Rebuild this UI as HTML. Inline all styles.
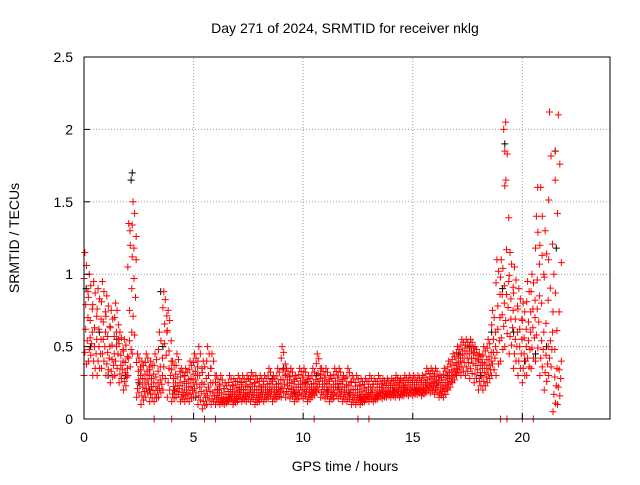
<!DOCTYPE html>
<html><head><meta charset="utf-8"><style>
html,body{margin:0;padding:0;background:#fff;}
svg text{font-family:"Liberation Sans",sans-serif;font-size:14px;fill:#000;}
</style></head><body>
<svg id="chart" width="640" height="480" xmlns="http://www.w3.org/2000/svg">
<rect x="0" y="0" width="640" height="480" fill="#fff"/>
<text x="345" y="33" text-anchor="middle">Day 271 of 2024, SRMTID for receiver nklg</text>
<text x="345" y="471" text-anchor="middle">GPS time / hours</text>
<text transform="translate(19,238) rotate(-90)" text-anchor="middle">SRMTID / TECUs</text>
<g id="grid"></g><g id="marks"></g>
<rect x="84" y="57" width="526" height="362" fill="none" stroke="#000" stroke-width="1"/>
<g id="ticks"></g>
</svg>
<script>
const xTicks=[0,5,10,15,20];
const yTicks=[0,0.5,1,1.5,2,2.5];
const yTickLabels=["0","0.5","1","1.5","2","2.5"];
const redT=[0,0.2,0.4,0.6,0.8,1.0,1.2,1.4,1.6,1.8,2.0,2.2,2.4,2.6,2.8,3.0,3.2,3.4,3.6,3.8,4.0,4.2,4.4,4.6,4.8,5.0,5.2,5.4,5.6,5.8,6.0,6.2,6.4,6.6,6.8,7.0,7.2,7.4,7.6,7.8,8.0,8.2,8.4,8.6,8.8,9.0,9.2,9.4,9.6,9.8,10.0,10.2,10.4,10.6,10.8,11.0,11.2,11.4,11.6,11.8,12.0,12.2,12.4,12.6,12.8,13.0,13.2,13.4,13.6,13.8,14.0,14.2,14.4,14.6,14.8,15.0,15.2,15.4,15.6,15.8,16.0,16.2,16.4,16.6,16.8,17.0,17.2,17.4,17.6,17.8,18.0,18.2,18.4,18.6,18.8,19.0,19.2,19.4,19.6,19.8,20.0,20.2,20.4,20.6,20.8,21.0,21.2,21.4,21.6];
const redHigh=[1.15,1.0,0.95,0.9,0.95,0.85,0.75,0.8,0.6,0.55,1.35,1.5,0.45,0.4,0.45,0.4,0.45,0.6,0.88,0.75,0.4,0.45,0.35,0.35,0.4,0.45,0.5,0.4,0.5,0.45,0.3,0.3,0.25,0.3,0.28,0.3,0.3,0.3,0.32,0.3,0.3,0.3,0.35,0.3,0.35,0.5,0.35,0.35,0.3,0.35,0.35,0.3,0.35,0.45,0.35,0.35,0.3,0.35,0.35,0.3,0.35,0.3,0.3,0.28,0.28,0.3,0.28,0.3,0.28,0.28,0.28,0.3,0.28,0.3,0.3,0.3,0.3,0.3,0.35,0.35,0.35,0.3,0.35,0.4,0.45,0.5,0.55,0.55,0.55,0.5,0.45,0.5,0.55,0.75,1.1,1.1,2.05,1.15,1.05,0.9,0.8,0.95,1.0,1.4,1.6,1.3,2.12,1.0,2.1];
const redMid=[0.7,0.6,0.55,0.55,0.6,0.5,0.45,0.55,0.4,0.35,0.6,1.1,0.3,0.25,0.3,0.25,0.25,0.3,0.6,0.4,0.25,0.25,0.2,0.22,0.25,0.3,0.25,0.2,0.25,0.2,0.18,0.15,0.15,0.18,0.17,0.2,0.18,0.2,0.2,0.18,0.2,0.2,0.22,0.2,0.22,0.3,0.25,0.22,0.2,0.24,0.22,0.2,0.22,0.28,0.24,0.22,0.2,0.24,0.22,0.2,0.2,0.18,0.18,0.17,0.18,0.2,0.18,0.2,0.2,0.2,0.2,0.22,0.2,0.22,0.22,0.22,0.22,0.22,0.25,0.26,0.25,0.22,0.25,0.3,0.35,0.4,0.45,0.45,0.45,0.4,0.35,0.35,0.4,0.5,0.7,0.8,0.95,0.75,0.6,0.55,0.5,0.6,0.7,0.85,0.6,0.5,0.6,0.35,0.4];
const redLow=[0.3,0.4,0.3,0.3,0.35,0.3,0.25,0.3,0.25,0.2,0.3,0.45,0.15,0.1,0.15,0.12,0.12,0.15,0.2,0.15,0.12,0.15,0.12,0.12,0.12,0.15,0.1,0.07,0.1,0.1,0.1,0.1,0.1,0.12,0.1,0.12,0.12,0.12,0.12,0.1,0.12,0.12,0.14,0.12,0.14,0.15,0.15,0.14,0.12,0.14,0.14,0.12,0.15,0.18,0.15,0.14,0.12,0.14,0.14,0.12,0.12,0.1,0.1,0.1,0.12,0.12,0.12,0.14,0.14,0.15,0.15,0.15,0.15,0.16,0.16,0.16,0.17,0.16,0.18,0.18,0.17,0.15,0.15,0.2,0.25,0.3,0.3,0.3,0.28,0.25,0.2,0.2,0.25,0.3,0.3,0.4,0.5,0.45,0.35,0.3,0.25,0.3,0.35,0.4,0.3,0.2,0.3,0.05,0.1];
const redSpikeT=[2.1,2.2,19.15,19.2,19.25,20.7,20.9,21.2,21.5,21.5];
const redSpikeV=[1.3,1.12,2.0,1.85,1.65,1.6,1.13,1.1,1.85,1.65];
const zeroT=[3.2,4.0,5.5,6.0,7.6,10.5,12.5,13.0,19.0,19.3,20.0,20.5];
const blackT=[0.1,0.3,0.7,1.1,1.5,1.9,2.15,2.2,2.5,3.0,3.5,3.6,4.1,4.6,5.1,5.6,6.1,6.6,7.1,7.6,8.1,8.6,9.1,9.6,10.1,10.6,11.1,11.6,12.1,12.6,13.1,13.6,14.1,14.6,15.1,15.6,16.1,16.6,17.1,17.6,18.1,18.6,19.1,19.2,19.6,20.1,20.6,21.1,21.5,21.55];
const blackV=[0.9,0.5,0.6,0.3,0.55,0.3,1.65,1.7,0.25,0.2,0.88,0.5,0.2,0.3,0.15,0.1,0.2,0.15,0.2,0.2,0.2,0.28,0.35,0.18,0.25,0.3,0.2,0.22,0.18,0.15,0.2,0.2,0.2,0.22,0.2,0.25,0.25,0.3,0.45,0.5,0.3,0.6,0.9,1.9,0.6,0.4,0.45,0.5,1.85,1.18];

const X0=84,X1=610,Y0=419,Y1=57;
const xs=v=>X0+(v/24)*(X1-X0);
const ys=v=>Y0-(v/2.5)*(Y0-Y1);
const NS="http://www.w3.org/2000/svg";
const grid=document.getElementById('grid'),ticks=document.getElementById('ticks'),marks=document.getElementById('marks');
function mk(tag,attrs,parent){const e=document.createElementNS(NS,tag);for(const k in attrs)e.setAttribute(k,attrs[k]);parent.appendChild(e);return e;}
xTicks.forEach(v=>{
  const x=xs(v);
  if(v>0){const g=mk('line',{x1:x,y1:Y0,x2:x,y2:Y1,stroke:'#a0a0a0','stroke-dasharray':'1,2'},grid);
  
  }
  const t=mk('line',{x1:x,y1:Y0,x2:x,y2:Y0-6,stroke:'#000'},ticks);
  
  
  const l=mk('text',{x:x,y:Y0+23,'text-anchor':'middle'},ticks);l.textContent=String(v);
  
  
});
yTicks.forEach((v,i)=>{
  const y=ys(v);
  if(v>0&&v<2.5){const g=mk('line',{x1:X0,y1:y,x2:X1,y2:y,stroke:'#a0a0a0','stroke-dasharray':'1,2'},grid);
  
  }
  const t=mk('line',{x1:X0,y1:y,x2:X0+6,y2:y,stroke:'#000'},ticks);
  
  
  const l=mk('text',{x:X0-11,y:y+5,'text-anchor':'end'},ticks);l.textContent=yTickLabels[i];
  
  
});
function plus(t,v,color,name){
  const x=xs(t),y=ys(v);
  const p=mk('path',{d:`M${x-3.5},${y}h7M${x},${y-3.5}v7`,stroke:color,'stroke-width':1},marks);
  
  
}
for(let i=0;i<blackT.length;i++)plus(blackT[i],blackV[i],'#000','black-point');
const fracs=[0,0.2,0.4,0.6,0.8,1];
const offs=[0,0.11,0.04,0.15,0.08,0.18];
const n=Math.min(redT.length,redHigh.length,redMid.length,redLow.length);
for(let i=0;i<n;i++){
  const t=redT[i];
  fracs.forEach((f,k)=>{
    plus(t+offs[k],redLow[i]+(redMid[i]-redLow[i])*f,'#ff0000','red-point');
    if(k>0)plus(t+offs[(k+3)%6],redMid[i]+(redHigh[i]-redMid[i])*f,'#ff0000','red-point');
  });
}
for(let i=0;i<redSpikeT.length;i++)plus(redSpikeT[i],redSpikeV[i],'#ff0000','red-spike-point');
for(let i=0;i<zeroT.length;i++)plus(zeroT[i],0,'#ff0000','red-zero-point');
</script>
</body></html>
